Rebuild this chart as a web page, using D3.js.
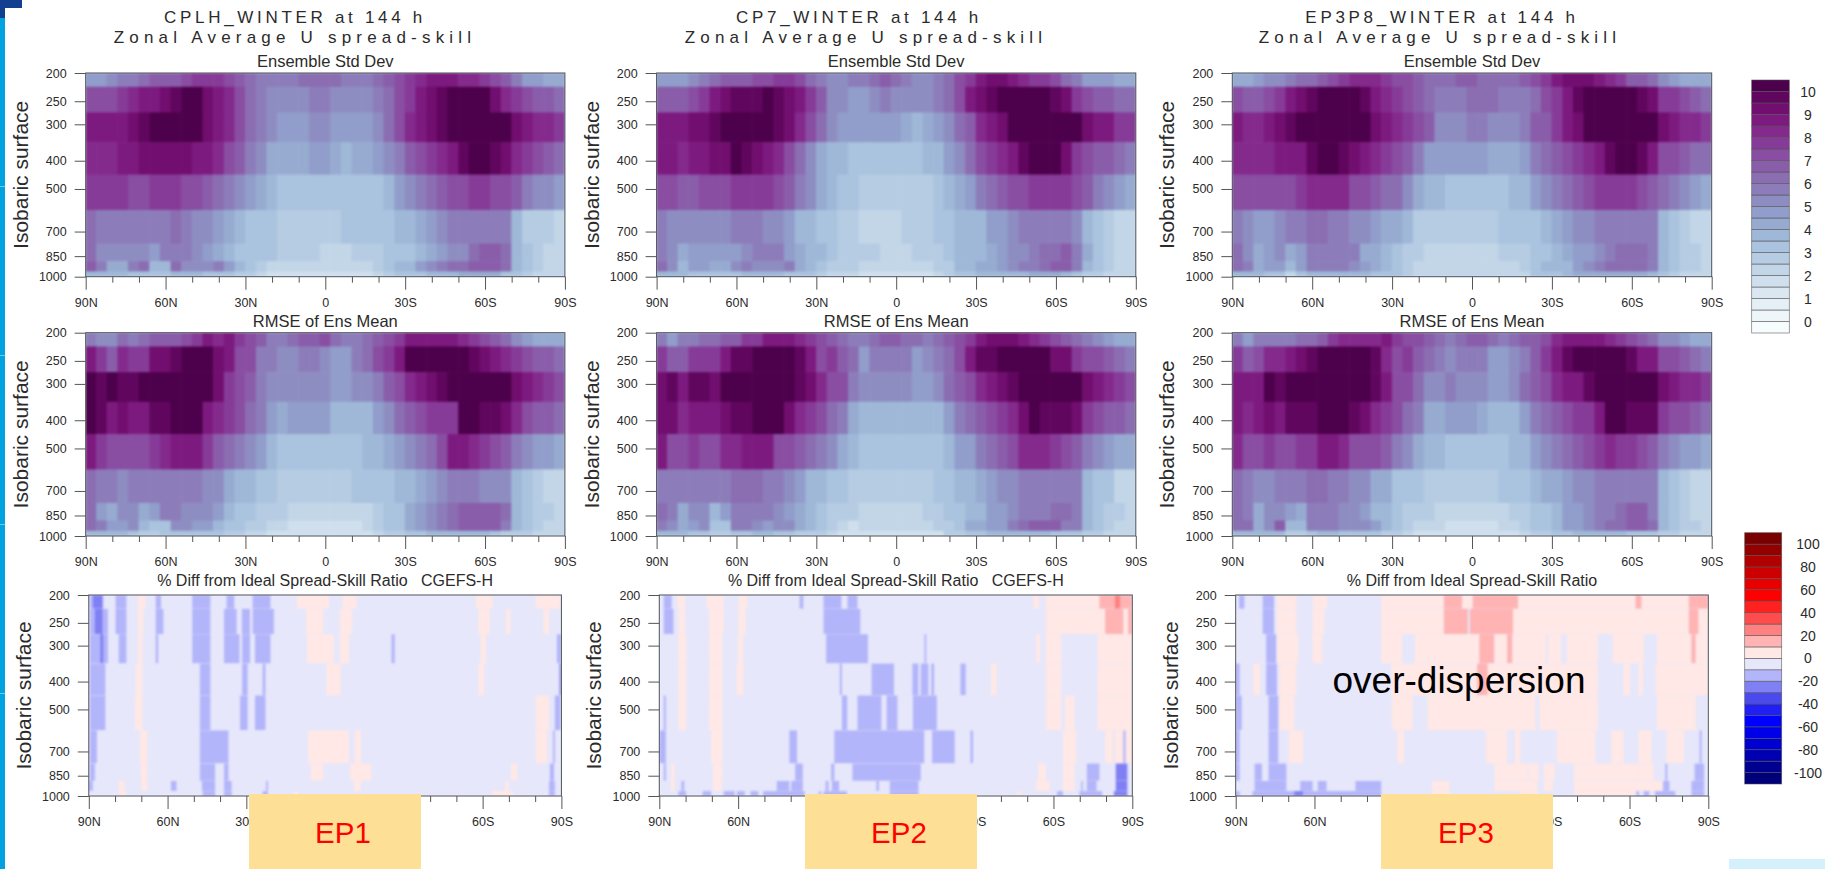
<!DOCTYPE html>
<html><head><meta charset="utf-8">
<script src="https://cdn.jsdelivr.net/npm/d3@7"></script>
<style>
html,body{margin:0;padding:0;background:#fff;overflow:hidden}
svg{display:block}
text{font-family:"Liberation Sans",Arial,sans-serif;fill:#2b2b2b}
</style></head><body>
<svg id="c" width="1825" height="869"></svg>
<script>
// ---------- axes data ----------
const levels=[200,250,300,400,500,700,850,925,1000];
const levelTicks=[200,250,300,400,500,700,850,1000];
const latMajor=[90,60,30,0,-30,-60,-90];
const latLabels=["90N","60N","30N","0","30S","60S","90S"];
const latLabelsCovered=["90N","60N","30N","","30S","60S","90S"]; // the "0" sits wholly under the EP box
const latMinor=[80,70,50,40,20,10,-10,-20,-40,-50,-70,-80];
const stdTicks=[0,1,2,3,4,5,6,7,8,9,10];
const diffTicks=[100,80,60,40,20,0,-20,-40,-60,-80,-100];
const diffColors=["#00007a","#000090","#0000b0","#0000d0","#0000e8","#0000ff","#2020f5","#4a4aee","#8080f5","#b3b5fa","#e6e7fb","#ffe8e6","#ffb3b3","#ff8080","#ff4d4d","#ff2020","#ff0000","#e60000","#cc0000","#b00000","#940000","#7a0000"];
const columnCount=45; // 4-degree columns, 90N to 90S

// ---------- Ensemble Std Dev, rows 200..1000 hPa ----------
const stdCPLH=[
[4.5,4.5,5,5.5,5.5,6,6.5,6.5,6.7,7,7.5,7.5,7.5,7,6.5,6,5.5,5.7,5.7,5.7,6,6.3,6.3,6,5.7,5.5,5.7,6,6.5,7,7.5,8,8.7,8.7,8.7,8.3,8,7.5,7,6.5,5.5,4.7,4.5,4.3,4.2],
[7,7,7.3,7.5,8,8.5,8.7,9,9.7,10,10,9,8.7,8,7,6,5.5,5,5,5,5,5.5,5.5,5,5,5,5,5.5,6,7,7.5,8.5,9,9.5,10.5,10.5,10.5,10,9,8,7.5,7,6.5,6.5,6],
[8.5,8.5,8.7,8.7,9,9.5,10.5,10.5,10.5,10.5,10.5,9,8.5,8,7,6,5.5,5,4.5,4.5,4.5,5,5,4.5,4.5,4.5,4.5,5,6,7,8,8.7,9,9.5,10.5,10.5,10.5,10.5,10.5,10,9,8.5,8,8,7.7],
[8.3,8.3,8.3,8.5,8.7,9,9,9.2,9.2,9.2,8.8,8.5,8,7,6.5,5.5,5,4.3,4,4,4,4.5,4.5,4,3.8,4,4,4.5,5,5.7,6.5,7,7.5,8,8.7,9.5,10,10,9.5,9,8,7.5,7,6.5,6],
[7.5,7.5,7.5,7.5,7,7,7.5,7.8,7.5,7,7,6.5,6,5.5,5,4.5,4,3.7,3.3,3.3,3.3,3.3,3.3,3.3,3.3,3.3,3.3,3.3,3.5,4.5,5,5.5,6,6.5,7,7.3,7.5,7.7,7.3,7,6.5,5.5,5,5,4.5],
[6,5.5,5.5,5.5,5.5,5.5,5.5,5.5,6,5.8,5.3,5.3,4.7,4,3.7,3.2,3,3,2.7,2.7,2.7,2.7,2.7,2.7,3,3.2,3.2,3.2,3.3,3.5,3.8,4.2,4.7,5,5.5,5.5,5.7,5.7,5.7,5.7,3.5,2.8,2.6,2.5,2.3],
[6,5,5,5,5,5,4.7,5.5,5.8,5.8,5,4.7,4.3,3.5,3.2,3.2,3,3,2.7,2.7,2.7,2.5,2.3,2.2,2.2,2.5,2.5,2.5,3,3.2,3.3,3.8,4.3,4.7,5,5,6,6.5,6.5,6.3,3.8,3,2.5,2.2,2.2],
[6.7,5.5,4,4,5.7,6,3.8,3.8,6,5,5,5,5.5,4.5,3.8,3,2.8,2.2,2.2,2.3,2.3,2.3,2.3,2.2,2.2,2.2,2.2,2.5,3,3.5,3.5,4.5,5,5.5,6,6.3,6.5,6.5,6.8,6,3.8,3.3,2.8,2.3,2.2],
[3.5,3.5,3.5,3.5,3.3,3,3,3.3,3.5,3.5,3.5,3.3,3.3,3,2.7,2.5,2.3,1.9,1.9,1.9,1.9,1.9,1.9,1.9,1.9,1.9,1.9,2.2,2.5,3,3,3.2,3.5,3.7,3.8,4,4,4,4,3.3,3,2.5,2.3,2.2,2]];
const stdCP7=[
[4.5,4.5,4.7,5,5.5,6,6.5,6.7,6.7,7,7.2,7.5,7.5,7,6,5.5,5.3,5.3,5.5,5.5,6,6.7,6,5.5,5.3,5.3,5.5,6,7,7.8,8.7,9,9,8.8,8.3,7.8,7.5,7,6,5.5,4.7,4.5,4.5,4.3,4.2],
[6.7,6.7,6.7,7.3,7.7,8.7,9,9.5,9.5,9.7,10.3,9.5,9,8.7,7.5,6.5,5.2,5,4.8,4.8,5,5.7,5,5,5,5,5.5,6.3,7,8.7,9,9.5,10.5,10.5,10.5,10.5,10.5,9.5,9,7.5,7,6.5,6.5,6,6],
[8.5,8.7,8.7,9,9,9.7,10.5,10.5,10.5,10.5,10.5,9.5,9,8,7,6.3,5,4.5,4.5,4.5,4.5,4.5,4.5,4.2,3.8,4.2,4.5,5,6,6.5,8,8.7,9,10.5,10.5,10.5,10.5,10.5,10.5,10,9,8.7,8.5,7.7,7.5],
[8.5,8.7,8.3,8.5,8.7,9,9.3,10,9.5,9,8.7,8,7,6,5,4.3,3.7,3.5,3.3,3.3,3.3,3.3,3.3,3.3,3.3,3.5,3.8,4.5,5,6,7,7.5,8,8.5,9.5,10,10,10,9,7.5,7,6.5,6.5,6,5.5],
[7.3,7,6.7,6.7,7,7,7,7.5,7.8,7.8,7.7,7,6.5,5.7,5,4.2,3.7,3.3,3.3,2.7,2.7,2.7,2.7,2.7,2.7,2.7,3.2,3.5,4.2,4.5,5.5,6,6.5,7,7,7.5,7.7,7.7,7.5,7,6.5,5.5,5,4.7,4.3],
[5.7,5.3,5,5,5,5.3,5.3,5.7,5.7,5.5,5.3,5,4.7,3.8,3.5,3.2,3,2.7,2.5,2.2,2.2,2.2,2.2,2.7,2.7,2.7,3,3,3.5,3.5,3.8,4.5,4.8,5.3,5.5,5.7,5.7,5.7,5.7,5.3,3.5,3,2.7,2.3,2.2],
[5.7,5,4,4.7,4.5,4.5,4.5,4.5,5.3,5.5,5.5,5.5,4.5,4.2,3.7,3.5,3,2.8,2.7,2.5,2.5,2.4,2.2,2.2,2.5,2.7,2.7,3.2,3.5,3.5,3.7,4,4.5,5,5.3,5.7,6.3,6.3,6.5,5.7,4,3.2,2.5,2.2,2.2],
[6,5.3,3.7,4.5,4.5,4,4.3,5,5.7,5,5,5,5.5,4,3.5,3.2,2.8,2.6,2.6,2.4,2.4,2,2,2,2.2,2.3,2.5,2.7,3.5,3.8,4,4,4.5,5,5.5,5.5,6,6.5,6.5,5.8,3.8,3,2.7,2.3,2.2],
[3.5,3.5,3.5,3.3,3.3,3,3,3.3,3.5,3.5,3.7,3.7,3.3,3,3,2.5,2.3,2,2,1.9,1.9,1.9,1.7,1.7,1.9,1.9,2.2,2.7,3,3.2,3.5,3.5,3.7,3.7,3.8,4,4,4,3.5,3.3,2.8,2.5,2.3,2.2,2]];
const stdEP3P8=[
[4.3,4.3,4.5,5,5.3,5.7,6,6.3,6.5,7,7.5,8,8,8,7.5,7,7,6.7,6,6,6.2,6.5,6.7,6.3,6,6,6.2,6.5,7,7.5,8.7,9,9,9,8.7,8.3,7.5,6.7,6.5,6,5,4.7,4.3,4.2,4],
[7,6.5,6.5,7,7.5,8.7,9,9.5,10,10.5,10.5,10,9.5,8.7,8,7.5,7,6.5,6,5.5,5.5,5.5,6,6,6,5.5,5.5,5.5,6.2,7,7.5,8.5,9.5,10.5,10.5,10.5,10.5,10.5,9.5,9,7.5,7.5,7,6.5,6],
[8.7,8,8,8.7,9,9.7,10.5,10.5,10.5,10.5,10.5,10.5,10,9,8.7,8,7.5,7,6.5,5,5,5,5.7,5.7,5,5,5,5.5,6.5,6.8,7.5,8.5,9,10,10.5,10.5,10.5,10.5,10.5,10,9,8.5,8,8,7.5],
[8.3,8.3,8.3,8.3,8.7,8.7,8.8,9.5,10,10,9.5,9,8.5,8,7.5,7,6.5,5.5,4.7,4.5,4.5,4.5,4.5,4.5,4,4,4.3,4.5,5.5,6,6.5,7,7.5,8,8.7,9.7,10,10,9.5,8.5,7,7,6.5,6,6],
[7.3,7,7,7,7,7,7.5,8,8,8,8,7.3,7,6.5,6.3,6,5,4.3,3.8,3.5,3.3,3.3,3.3,3.3,3.3,3.3,3.5,3.8,4.5,5,5.5,6,6.5,7,7.5,7.8,7.8,7.5,7,6.7,6,5.5,5,4.5,4.3],
[5.8,5,4.7,4.7,5.3,5.5,5.5,6,6,5.7,5.5,5.3,5,4.5,4.2,4,3.7,2.7,2.5,2.5,2.5,2.5,2.5,2.5,2.5,3,3,3.2,3.4,3.6,4,4.5,5,5.3,5.5,5.7,5.7,5.7,5.7,5.5,3.7,3,2.5,2.3,2],
[6,5,4.2,4.5,5,4,4.7,5.7,5.7,5.7,5.5,5.5,4.3,4,3.8,3.4,2.7,2.5,2.4,2.4,2.3,2,2,2,2,2.5,2.5,2.5,3.2,3.3,3.7,4,4.5,4.5,5,5.5,6,6,6,5.7,3.5,3,2.5,2.5,2.2],
[6,5.5,4,4.5,4.5,3.8,4.5,5.8,5.8,5.5,5.5,5.3,4.5,4,3.7,3.2,2.8,2.3,2.2,2.2,2,2,2,2,2.2,2.2,2.2,2.7,3.4,3.6,3.8,3.8,4.5,5,5.5,6,6.3,6.3,6,5.5,3.5,3,2.7,2.5,2.2],
[3.5,3.5,3.5,3.3,3.2,2.2,3,3.5,3.8,3.8,3.5,3.5,3.5,3.3,3,3,2.5,2,2,2,2,2,2,2,2,2,2,2.2,3,3.2,3.3,3.5,4,4,4,4.2,4.3,4,4,3.5,3,2.5,2.3,2.3,2]];

// ---------- RMSE of Ens Mean ----------
const rmseCPLH=[
[5.7,5,5,6,5.7,6,6.5,6.5,6.7,7,7.8,8.5,8,8.5,7.5,7,6.5,5.7,5.5,6,6.5,6.5,7,6.3,5.8,5.7,6.3,6.5,7,7.5,8.5,8.7,8.7,8.7,8.5,8,7.5,7,6.5,6,5.2,4.7,4.3,4,4],
[8.5,7.5,6.7,8,7.5,7.5,9.3,9,9.7,10.5,10.5,10,9.3,8.7,7,7.3,5.8,5.5,5,5.3,5.7,5.7,5,4.7,4.7,5.7,6,7.3,7.5,8.7,10,10,10,10.5,10.5,10.5,9.7,9.3,8.7,8,7.5,7,6.5,6.5,6],
[10.5,9.5,10,9.7,9.7,10.5,10.5,10.5,10.5,10.5,10.5,10,9,7.8,7,6.5,5.7,5.2,5,5,5.3,5.3,5.3,4.7,4.7,5,5,5.7,6.5,7,8,8.7,9,9.7,10.5,10.5,10.5,10.5,10.5,10.5,9,8.7,8.3,7.7,7],
[10.5,9.5,8.5,9,8.7,8.5,9.5,9.7,10.5,10.5,10.5,8.8,8,7.5,7,6,5.5,4.5,4,4.5,4.8,4.8,4.8,3.8,3.8,3.8,3.8,4.5,5.3,6,6.5,7,7.5,7.5,7.5,10.3,10,9.7,9.5,9,8,7.3,6.8,6.5,6],
[8.7,7.5,7,7.2,7,7,7.5,8,8.5,8.5,8.5,7.5,6.5,6.2,5.5,5,4.5,3.8,3.3,3.3,3.3,3.3,3.3,3.3,3.3,3.3,3.5,3.8,4,4.5,5,5.5,6,7,8.5,8.7,8,7.5,7,6.5,5.5,5,4.5,4.5,4.2],
[6,5.7,5.5,5.3,5.5,5.5,5.7,5.7,5.7,5.7,5.7,5.3,5,4.2,3.8,3.5,3.3,3,2.5,2.5,2.5,2.5,2.5,2.5,2.8,3,3,3.2,3.3,3.5,3.7,4.2,4.7,5,5.7,5.7,5.5,5.3,5.3,5.3,3.5,3,2.7,2.4,2.2],
[6,4.7,4,5,5.3,4,4.5,5.5,5.7,5,5,5,4.5,3.7,3.3,3,2.8,2.5,2.5,2.2,2.2,2,2,2,2,2.2,2.3,2.5,3,3.2,4,4.5,5,5.7,6,6.5,6.5,6.5,6.5,6,3.7,3,2.7,2.5,2.3],
[6,5.5,4.5,4.5,5,3.5,3.3,3.3,5,5,4.5,4.5,3.5,3.3,3,2.7,2.5,2.2,2,1.9,1.9,1.7,1.7,1.7,1.7,1.7,2,2.5,3,3.2,4,4.8,5.3,5.7,6,6.5,6.7,6.7,6.5,5.8,3.5,3,2.5,2.3,2.2],
[3.5,3.5,3.5,3.5,3.3,2.8,2.8,3,3,3,3,3.3,3,2.7,2.5,2.3,2,1.7,1.7,1.7,1.7,1.7,1.7,1.7,1.7,1.7,1.9,2.2,2.7,2.7,3,3.2,3.5,3.5,3.5,3.7,3.5,3.5,3,2.7,2.5,2.5,2.3,2.2,2]];
const rmseCP7=[
[5.5,4.7,5.7,5.7,6,6.3,6.5,6.7,7.5,7.8,8.5,8.7,8.7,8,7.5,7,6.7,6,5.8,5.8,6,6.7,6.7,6.2,6,5.5,6,6.7,7,7.5,8.7,9,9,9,8.7,8,7.7,7.2,6.5,6,5.5,5,4.7,4.3,4.2],
[7.7,6.7,6.5,7.8,7.7,7.7,8.5,9.7,9.5,10.5,10.5,10.5,10,9.7,8.7,7,7.5,6.5,6,4.7,5.5,5.7,5.5,5.7,4.7,5,5.5,6.2,7.3,8.7,9.7,9.7,10,10.5,10.5,10.5,10.3,9,9,7.7,7.3,7,6.5,6,5.7],
[9.3,9.7,8.7,9.5,9.5,9,10.5,10.5,10.5,10.5,10.5,10.5,10.5,9.5,9,8,7,7,5.5,5,5,5,5,5,4.5,4.8,5,6,6.5,7,8,8.7,9,9.7,10.5,10.5,10.5,10.5,10.5,10,9.3,8.7,8,7.5,7],
[9,9,8,8.5,8.7,8.7,9,9.7,9.7,10.5,10.5,10.5,9,8,7.5,7,6,5.5,4.2,3.5,3.5,3.5,3.5,3.5,3.5,3.5,3.5,4.5,5.5,6,6.5,7,7.5,8,9,10,9.8,9.7,9.7,9,7.5,7,6.7,6.5,6],
[8.7,7.2,7,7.5,7,7,8,8,8.7,8.7,8.7,7.3,7,6.5,6.2,5.5,5,4,3.7,3.3,3.3,3.3,3.3,3.3,3.3,3.3,3.3,3.8,4.5,4.8,5.5,6,6.5,7,8,8.3,8,7.5,7.3,6.5,5.7,5,4.5,4.3,4.2],
[5.8,5.7,5.7,5.5,5.5,5.7,5.7,6,6,6,5.7,5.5,5,4.5,3.8,3.5,3.3,3.3,2.7,2.5,2.5,2.5,2.5,2.5,2.5,2.5,3,3,3.5,3.7,4.3,4.7,5,5.2,5.7,5.7,5.5,5.5,5.5,5.5,3.7,3.2,3,2.4,2.3],
[6,5.5,4,5,5,3.7,4.5,5.5,5.5,5.7,5.5,5,4.5,4,3.5,3.2,2.8,2.7,2.5,2.3,2.3,2.1,2.1,2.3,2.3,2.5,2.5,3,3.2,3.5,3.7,4.5,4.5,5,5.5,5.7,5.7,6,6,5.7,3.7,3,2.8,2.5,2.3],
[5.7,5,4,4.7,5,3,3,5.5,5.5,5,4.5,5,5,4,3.5,3.2,2.5,2.3,1.7,2,2,2,2,2,2,2.2,2.5,2.7,3,4,4,4.5,4.7,5.5,6.3,6.5,6.5,6.5,5.5,5.5,3.7,3.2,2.7,2.3,2.2],
[3.5,3.5,3.5,3.3,3.3,2.5,2.5,3,3.3,3.5,3.5,3.3,3,2.7,2.5,2.5,2.2,1.9,1.7,1.7,1.7,1.7,1.7,1.7,1.7,1.7,1.9,2.5,2.8,3,3.2,3.5,3.7,3.7,3.5,3.5,3.5,3,3,3,2.7,2.5,2.3,2.2,2]];
const rmseEP3P8=[
[5.5,4.7,5.5,5.5,5.7,5.5,6.3,6.3,6.5,7.5,8,8,8,8,8.7,7.5,7,7,6.5,6,5.7,6,6.5,6.7,6,5.5,6,6.5,6.5,7,8.3,8.7,8.7,8.7,8.7,8,7.5,7,6.7,6,5,5,4.7,4.3,4],
[7.5,6.7,7,8,8.3,8.7,9,9.5,10,10.5,10.5,10.5,10,9.5,8,7,7.5,6.5,6,5.5,5,5.5,5.7,5.7,4.7,4.7,5,5.7,6.5,7.5,8.7,9.7,10,10,10.5,10.5,10.5,9.7,8.7,8.7,7.3,7,6.7,6.2,5.7],
[8.7,8.7,8.7,10.5,9.7,10,10.5,10.5,10.5,10.5,10.5,10.5,10.5,9.5,8.7,7,7,6.3,5,5,5.5,5.3,5.3,5.3,4.7,4.7,5,6,6.5,7,8,8.7,8.7,9.5,10.5,10.5,10.5,10.5,10.5,10.5,9,8.5,8,8,7.5],
[8.7,8.3,8.7,9,8.7,9.5,9.5,9.7,10.5,10.5,10.5,9.5,9,8,7.5,7,6,5.5,4,4,4.7,4.7,4.7,4,3.7,3.7,3.7,4.5,5.7,6,6.5,7,7.5,7.5,8.5,10,10,9.7,9.5,9.5,7.5,7,7,6.5,6],
[8,7,7,7.5,7,7,7.7,7.7,8.7,8.7,8,7.3,7,7,6.5,5.7,5.3,4.2,3.8,3.5,3.3,3.3,3.3,3.3,3.3,3.3,3.5,3.8,4.5,5,5.5,6,6.5,7,7.5,8,7.5,7.5,7,6.7,5.8,5.3,4.5,4.5,4.2],
[6,5.5,5,5.2,5.5,5.7,5.7,6,6,5.7,5.7,5.3,5,4.3,4,3.4,3.3,3,2.7,2.5,2.5,2.5,2.5,2.5,2.5,3,3,3.3,3.5,4,4.3,4.7,5,5,5.5,5.7,5.7,5.7,5.7,5.7,3.5,3,2.5,2.3,2.2],
[6,5.5,4,5,5,4.7,4,5.7,5.5,5.5,5.3,5.3,4.5,3.5,3.5,3.3,2.5,2.5,2.5,2.3,2.3,2,2,2,2.2,2.2,2.5,2.5,3,3.3,3.5,4.5,4.7,5,5.5,5.7,6.3,6.5,6.5,5.7,3.7,3,2.5,2.2,2.2],
[6,6,4,5,6.5,3.7,3.7,5.5,5.8,5.5,5,5,5,4.5,3.8,3.3,2.8,2.3,2,2,1.9,1.9,1.9,1.9,1.9,2.2,2.2,2.5,3,3.3,3.5,4.5,4.5,5,5.7,6,6.3,6.7,6.7,6,3.7,3.2,2.7,2.5,2.2],
[3.5,3.5,3.5,3.5,3.5,2.5,2.5,3,3.5,3.5,3.3,3.3,3,3,2.7,2.5,2.2,1.9,1.7,1.7,1.7,1.7,1.7,1.7,1.7,1.7,1.9,2.2,2.7,2.7,3,3.3,3.5,3.5,3.7,3.7,3.5,3.3,3,3,2.7,2.5,2.3,2.2,2]];

// ---------- % Diff: spans [degrees south of 90N start, end, value]; rest of each row is diffBase ----------
const diffBase=-5;
const diffCPLH=[
[[0.4,5.5,-15],[1.6,5.2,-25],[10.2,14.3,-15],[18.7,21.6,5],[25.5,27.5,-15],[39.4,46.3,-15],[52.5,55.4,-15],[62.4,69.2,-15],[79.3,91.5,5],[96.6,102,5],[147.5,153.8,5],[170.2,179.4,5]],
[[0.4,7.3,-15],[2.3,5.2,-25],[10.2,14.3,-15],[18.7,20.8,5],[25.5,28.4,-15],[39.4,46.3,-15],[51.5,56.3,-15],[58.3,61.4,-15],[62.4,70.5,-15],[82.8,89.3,5],[95.6,100.3,5],[148.4,152.7,5],[159,160.5,5],[173.2,175.3,5]],
[[0.4,7.3,-15],[4.4,5.5,-25],[11.4,14.3,-15],[18.7,20.4,5],[25.5,26.4,-15],[39.4,46.3,-15],[51.5,57.4,-15],[58.4,61.4,-15],[63.3,69.2,-15],[83.1,93.3,5],[95.6,99.1,5],[115.3,116.5,-15],[149.1,151.3,5],[178.3,180,-15]],
[[0.4,6.3,-15],[17.9,20.4,5],[42.3,46.3,-15],[58.4,60.5,-15],[66.2,67.3,-15],[90.5,95.9,5],[148.4,150.6,5],[179.3,180,-25]],
[[0.4,6.3,-15],[17.5,20.4,5],[42.3,46.3,-15],[57.6,60.5,-15],[63.3,67.3,-15],[170.2,175.3,5],[177.5,179.7,-15]],
[[0.4,3.1,-15],[19.4,22.3,5],[42.3,53.2,-15],[83.5,99.1,5],[101.3,103.6,5],[170.2,174.6,5],[176.8,177.5,-15]],
[[0.4,2.3,-15],[19.7,22.3,5],[42.3,48.1,-15],[51.5,53.2,-15],[84.5,89.3,5],[99.5,107.6,5],[160.8,163,5],[175.6,177.2,-15]],
[[0,1.5,-15],[11.4,13.6,5],[20,22.3,5],[31.3,33.4,-15],[43.1,48.1,-15],[51.5,54.4,-15],[67.5,68.2,-15],[101,103.6,5],[158.6,160,5],[175.3,177.5,-15]],
[[11.4,14.3,5],[43.4,48.1,-15],[51.5,54.4,-15],[66.2,68.2,-15],[78.4,79.6,5],[153.5,161.5,5],[175.3,177.5,-15]]];
const diffCP7=[
[[1.7,4.7,-15],[6.8,9.8,5],[17.9,24.5,5],[30.1,33.5,5],[53.4,54.8,-15],[62.5,69.3,-15],[71.6,75.4,-15],[142.4,144.6,5],[147.1,167.5,5],[167.5,173.4,15],[173.4,175.5,25],[175.5,180,15]],
[[1.7,5.4,-15],[7.3,9.8,5],[18.9,24.5,5],[30.1,32.8,5],[62.5,76.5,-15],[147.1,169.7,5],[169.7,176.6,15],[176.6,178.4,5],[178.4,180,15]],
[[7.3,10.2,5],[18.9,24,5],[29.9,32,5],[63.5,79.4,-15],[100.9,101.6,-15],[143.4,144.9,5],[147.1,152.9,5],[166.7,180,5]],
[[7.3,10.2,5],[18.9,24,5],[29.4,32,5],[68.7,69.5,-15],[80.8,89.3,-15],[96.3,98.6,-15],[99.5,102.4,-15],[103.5,104.6,-15],[114.6,116.6,-15],[126.3,128.4,5],[147.1,152.9,5],[166.7,180,5]],
[[1.7,2.5,-15],[7.3,10.2,5],[18.9,24,5],[69.5,71.5,-15],[75.4,84.5,-15],[86.5,90.6,-15],[96.5,105.6,-15],[147.1,152.9,5],[154.4,158,5],[166.7,180,5]],
[[0,2.5,-15],[19.7,24,5],[49.5,52.4,-15],[66.6,100.8,-15],[103.8,112.4,-15],[118.4,119.4,-15],[153.6,158.7,5],[169.7,172.6,5],[173.3,176.6,5],[176.6,177.5,-15],[177.5,180,5]],
[[1.7,2.5,-15],[4.4,5.8,5],[20.4,24,5],[51.7,54.6,-15],[65.4,66.6,-15],[73.5,99.5,-15],[144.2,147.1,5],[153.6,158,5],[162.7,167.5,-15],[173.7,178.1,-25]],
[[4.4,5.8,5],[8.4,9.5,-15],[20.4,23.7,5],[44.7,49.5,-15],[50.2,54.6,-15],[63.3,64.4,-15],[65.7,68.4,-15],[82.6,83.6,-15],[87.7,98.6,-15],[143.4,148.5,5],[153.6,158,5],[160.6,161.2,-15],[162.7,166.4,-15],[173.7,178.1,-25]],
[[7.3,10.2,-15],[16.5,19.7,-15],[24.5,28.7,-15],[29.6,32.5,-15],[34.7,37.7,-15],[39.5,55.3,-15],[60.7,61.6,-15],[62.5,71.4,-15],[87.7,98.6,-15],[136.2,137.6,5],[151.4,153.6,-15],[159.9,168.5,-15],[173,178.1,-25]]];
const diffEP3P8=[
[[1.3,3.3,-15],[10.3,14.6,-15],[15.7,23.1,5],[29.3,34.9,5],[55.4,79.3,5],[79.3,86.2,15],[86.2,90.3,5],[90.3,107.5,15],[107.5,152.3,5],[152.3,154.6,15],[154.6,172.6,5],[172.6,180,15]],
[[10.3,14.6,-15],[15.7,23.1,5],[29.3,33.8,5],[55.4,79.3,5],[79.3,88.4,15],[89.2,105.6,15],[105.6,172.6,5],[172.6,176.3,15],[176.3,180,5]],
[[11.6,15.4,-15],[15.7,23.9,5],[29.3,33,5],[55.4,63.3,5],[68.2,92.8,5],[92.8,98.5,15],[98.5,103.4,5],[103.4,105.4,15],[105.4,118.2,5],[119,123.9,5],[126.1,137.9,5],[143.6,155.4,5],[160.5,173.6,5],[173.6,175.2,15],[175.2,180,5]],
[[0,1.5,-15],[6.7,9.2,5],[11.6,15.7,-15],[16.6,23.1,5],[59.2,92,5],[92,96,15],[96,137.9,5],[147.7,150.2,5],[153.4,155.1,5],[160,180,5]],
[[0,2.3,-15],[12.5,16.2,-15],[16.6,22.3,5],[59.5,67.4,5],[73.1,114.1,5],[115.7,137.9,5],[160.5,175.2,5]],
[[0,1.5,-15],[12.5,16.2,-15],[20.2,25.6,5],[61.6,64.1,5],[95.2,103.4,5],[106.4,108.4,5],[122.3,137,5],[143.1,147.7,5],[153.4,158.4,5],[164.1,170.7,5],[176.7,177.5,-15]],
[[0,1.5,-15],[7.2,10,-15],[12.5,19.3,-15],[98.5,111.3,5],[111.6,115.4,5],[117.4,121.5,5],[128.9,153.4,5],[153.4,159.2,5],[163.6,164.4,-15],[174.8,178.4,-15]],
[[7.2,19.3,-15],[24.6,29.3,-15],[31.3,34.6,-15],[45.6,55.4,-15],[74.8,81.3,5],[98.5,114.9,5],[117.4,120.7,5],[128.9,162.5,5],[162.8,165.2,-15],[173.6,178.4,-15]],
[[0,1.5,-15],[6.4,55.4,-15],[22.3,25.6,-25],[74.8,81.3,5],[108.4,114.9,5],[128.9,152.3,5],[152.6,153.6,-15],[155.4,157.5,-15],[159.7,167.4,-15],[173.6,178.4,-15]]];

// ---------- panel labels ----------
const runNames=["CPLH_WINTER at 144 h","CP7_WINTER at 144 h","EP3P8_WINTER at 144 h"];
const titleLine2="Zonal Average U spread-skill";
const rowTitles=["Ensemble Std Dev","RMSE of Ens Mean"];
const diffTitles=["% Diff from Ideal Spread-Skill Ratio   CGEFS-H","% Diff from Ideal Spread-Skill Ratio   CGEFS-H","% Diff from Ideal Spread-Skill Ratio"];
const epLabels=["EP1","EP2","EP3"];
const yLabel="Isobaric surface";

// ---------- layout ----------
const topX=[[85.7,564.9],[656.6,1135.8],[1232.3,1711.7]];
const botX=[[88.8,561.4],[659.3,1132.3],[1235.7,1708.3]];
const rowY=[[73,276.7],[332.7,536],[595,796]];
const titleCx=[[295,295],[859,866],[1442,1440]];
const epBox=[[249,421],[805,977],[1381,1553]];

const svg=d3.select("#c");
const defs=svg.append("defs");

// slide background fragments
const bg=svg.append("g");
bg.append("rect").attr("x",0).attr("y",0).attr("width",5).attr("height",869).attr("fill","#00a3df");
bg.append("rect").attr("x",0).attr("y",0).attr("width",5).attr("height",18).attr("fill","#123f8f");
bg.append("rect").attr("x",0).attr("y",0).attr("width",22).attr("height",8).attr("fill","#123f8f");
[186,355,524,693].forEach(y=>bg.append("rect").attr("x",0).attr("y",y).attr("width",5).attr("height",1).attr("fill","#6cc9ee"));
bg.append("rect").attr("x",1729).attr("y",859).attr("width",96).attr("height",10).attr("fill","#d4f1fb");

const stdColor=d3.scaleThreshold().domain(d3.range(0,10.5,0.5)).range(d3.quantize(d3.interpolateBuPu,22));
const diffColor=d3.scaleThreshold().domain(d3.range(-100,101,10)).range(diffColors);

// pressure edges of each row: geometric midpoints between the levels
const edges=[levels[0],...d3.pairs(levels).map(([a,b])=>Math.sqrt(a*b)),levels[levels.length-1]];

function panel(xr,yr,id,labels,draw){
  const x=d3.scaleLinear().domain([90,-90]).range(xr);
  const y=d3.scaleLog().domain([200,1000]).range(yr);
  const g=svg.append("g");
  defs.append("clipPath").attr("id",id).append("rect")
    .attr("x",xr[0]).attr("y",yr[0]).attr("width",xr[1]-xr[0]).attr("height",yr[1]-yr[0]);
  const clip=g.append("g").attr("clip-path",`url(#${id})`);
  const cells=clip.append("g").style("filter","blur(0.8px)");
  draw(cells,x,y);
  g.append("rect").attr("x",xr[0]).attr("y",yr[0]).attr("width",xr[1]-xr[0]).attr("height",yr[1]-yr[0])
    .attr("fill","none").attr("stroke","#4a4f58").attr("stroke-width",1);
  const left=g.append("g").attr("transform",`translate(${xr[0]},0)`)
    .call(d3.axisLeft(y).tickValues(levelTicks).tickFormat(d3.format("d")).tickSize(11).tickPadding(8));
  const bot=g.append("g").attr("transform",`translate(0,${yr[1]})`)
    .call(d3.axisBottom(x).tickValues(latMajor).tickFormat((d,i)=>labels[i]).tickSize(13).tickPadding(8));
  const minor=g.append("g").attr("transform",`translate(0,${yr[1]})`)
    .call(d3.axisBottom(x).tickValues(latMinor).tickFormat("").tickSize(6));
  [left,bot,minor].forEach(a=>{
    a.select(".domain").remove();
    a.selectAll("line").attr("stroke","#555");
    a.selectAll("text").style("font-family",'"Liberation Sans",Arial,sans-serif').style("font-size","12.5px").attr("fill","#333");
  });
  minor.selectAll("text").remove();
  bot.selectAll("text").filter(function(){return this.textContent==="";}).remove();
  g.append("text").attr("transform",`translate(${xr[0]-58},${(yr[0]+yr[1])/2}) rotate(-90)`)
    .attr("text-anchor","middle").style("font-size","21px").text(yLabel);
}
function heat(data){
  return (g,x,y)=>{
    data.forEach((row,r)=>{
      g.selectAll(null).data(row).enter().append("rect")
        .attr("x",(d,i)=>x(90-4*i)-0.3)
        .attr("width",(d,i)=>x(90-4*(i+1))-x(90-4*i)+0.6)
        .attr("y",y(edges[r])-0.3)
        .attr("height",y(edges[r+1])-y(edges[r])+0.6)
        .attr("fill",d=>stdColor(d));
    });
  };
}
function spans(data){
  return (g,x,y)=>{
    data.forEach((row,r)=>{
      g.append("rect").attr("x",x(90)).attr("width",x(-90)-x(90))
        .attr("y",y(edges[r])-0.3).attr("height",y(edges[r+1])-y(edges[r])+0.6)
        .attr("fill",diffColor(diffBase));
      g.selectAll(null).data(row).enter().append("rect")
        .attr("x",d=>x(90-d[0])).attr("width",d=>x(90-d[1])-x(90-d[0]))
        .attr("y",y(edges[r])).attr("height",y(edges[r+1])-y(edges[r]))
        .attr("fill",d=>diffColor(d[2]));
    });
  };
}
[stdCPLH,stdCP7,stdEP3P8].forEach((d,i)=>panel(topX[i],rowY[0],"s"+i,latLabels,heat(d)));
[rmseCPLH,rmseCP7,rmseEP3P8].forEach((d,i)=>panel(topX[i],rowY[1],"r"+i,latLabels,heat(d)));
[diffCPLH,diffCP7,diffEP3P8].forEach((d,i)=>panel(botX[i],rowY[2],"d"+i,latLabelsCovered,spans(d)));

// titles
runNames.forEach((t,i)=>{
  svg.append("text").attr("x",titleCx[i][0]).attr("y",22.7).attr("text-anchor","middle")
    .style("font-size","17px").style("letter-spacing","3.7px").text(t);
  svg.append("text").attr("x",titleCx[i][1]).attr("y",42.7).attr("text-anchor","middle")
    .style("font-size","17px").style("letter-spacing","5.2px").text(titleLine2);
  const cx=(topX[i][0]+topX[i][1])/2, bx=(botX[i][0]+botX[i][1])/2;
  svg.append("text").attr("x",cx).attr("y",67).attr("text-anchor","middle").style("font-size","16.5px").text(rowTitles[0]);
  svg.append("text").attr("x",cx).attr("y",326.5).attr("text-anchor","middle").style("font-size","16.5px").text(rowTitles[1]);
  svg.append("text").attr("x",bx).attr("y",586).attr("text-anchor","middle").style("font-size","16px").style("white-space","pre").text(diffTitles[i]);
});

// colour bars
function colorBar(xr,yr,thresholds,scale,ticks,labelCx){
  const n=thresholds.length+1;
  const y=d3.scaleLinear().domain([-1,n-1]).range([yr[1],yr[0]]);
  const vals=d3.range(n).map(i=>i===0?thresholds[0]-1:thresholds[i-1]+1e-6);
  const g=svg.append("g");
  g.selectAll("rect").data(vals).enter().append("rect")
    .attr("x",xr[0]).attr("width",xr[1]-xr[0])
    .attr("y",(d,i)=>y(i)).attr("height",(d,i)=>y(i-1)-y(i))
    .attr("fill",d=>scale(d)).attr("stroke","#555").attr("stroke-width",0.7).attr("stroke-opacity",0.8);
  g.selectAll("text").data(ticks).enter().append("text")
    .attr("x",labelCx).attr("y",d=>y(thresholds.indexOf(d)))
    .attr("dy","0.36em").attr("text-anchor","middle").style("font-size","14px").text(d=>d);
}
colorBar([1751.7,1789.3],[80,333],d3.range(0,10.5,0.5),stdColor,stdTicks,1808);
colorBar([1744.7,1781.7],[532.7,784],d3.range(-100,101,10),diffColor,diffTicks,1808);

// annotations
epBox.forEach((b,i)=>{
  svg.append("rect").attr("x",b[0]).attr("y",794).attr("width",b[1]-b[0]).attr("height",75).attr("fill","#fde096");
});
[343,899,1466].forEach((cx,i)=>{
  svg.append("text").attr("x",cx).attr("y",842.5).attr("text-anchor","middle")
    .style("font-size","29.5px").style("fill","#ff0000").text(epLabels[i]);
});
svg.append("text").attr("x",1459).attr("y",693).attr("text-anchor","middle")
  .style("font-size","37px").style("fill","#000").text("over-dispersion");
</script>
</body></html>
